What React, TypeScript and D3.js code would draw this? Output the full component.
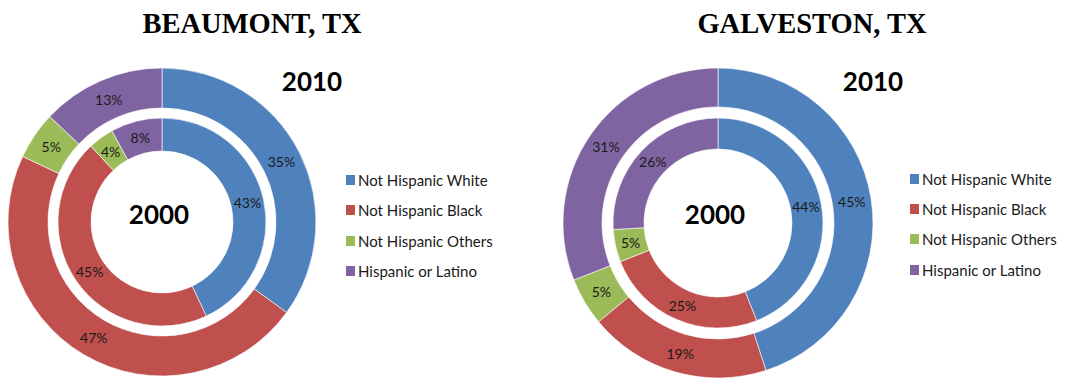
import React from "react";
import * as d3 from "d3";

const categories = ["Not Hispanic White", "Not Hispanic Black", "Not Hispanic Others", "Hispanic or Latino"];
const colors = ["#4F81BD", "#C0504D", "#9BBB59", "#8064A2"];

const beaumont2010 = [35, 47, 5, 13];
const beaumont2000 = [43, 45, 4, 8];
const galveston2010 = [45, 19, 5, 31];
const galveston2000 = [44, 25, 5, 26];

const cities = ["BEAUMONT, TX", "GALVESTON, TX"];

type Panel = {
  title: string;
  outer: number[];
  inner: number[];
  cx: number;
  cy: number;
  rO: [number, number];
  rI: [number, number];
  titleX: number;
  y2010X: number;
  legendX: number;
  legendY: number[];
};

const panels: Panel[] = [
  {
    title: cities[0],
    outer: beaumont2010,
    inner: beaumont2000,
    cx: 162,
    cy: 222,
    rO: [114, 154],
    rI: [71, 104],
    titleX: 252,
    y2010X: 312,
    legendX: 346,
    legendY: [180, 210, 241, 271],
  },
  {
    title: cities[1],
    outer: galveston2010,
    inner: galveston2000,
    cx: 718,
    cy: 223,
    rO: [116, 155],
    rI: [74, 105],
    titleX: 812,
    y2010X: 873,
    legendX: 910,
    legendY: [179, 209, 239, 270],
  },
];

const pie = d3.pie<number>().sort(null).value((d) => d);

function Ring({ values, r0, r1 }: { values: number[]; r0: number; r1: number }) {
  const arc = d3.arc<d3.PieArcDatum<number>>().innerRadius(r0).outerRadius(r1);
  const arcs = pie(values);
  return (
    <g>
      {arcs.map((a, i) => (
        <path key={i} d={arc(a) || ""} fill={colors[i]} stroke="#ffffff" strokeWidth={0.6} />
      ))}
      {arcs.map((a, i) => {
        const [x, y] = arc.centroid(a);
        return (
          <text
            key={"t" + i}
            x={x}
            y={y}
            textAnchor="middle"
            dominantBaseline="central"
            fontFamily="Lato, 'Open Sans', sans-serif"
            fontSize={14}
            fill="#1a1a1a"
          >
            {values[i]}%
          </text>
        );
      })}
    </g>
  );
}

export default function App() {
  return (
    <svg
      width={1071}
      height={379}
      style={{ position: "absolute", left: 0, top: 0, background: "#fff" }}
    >
      {panels.map((p, k) => (
        <g key={k}>
          <text
            x={p.titleX}
            y={33}
            textAnchor="middle"
            fontFamily="'Liberation Serif', 'Times New Roman', serif"
            fontWeight="bold"
            fontSize={28.5}
            fill="#000"
          >
            {p.title}
          </text>
          <g transform={`translate(${p.cx},${p.cy})`}>
            <Ring values={p.outer} r0={p.rO[0]} r1={p.rO[1]} />
            <Ring values={p.inner} r0={p.rI[0]} r1={p.rI[1]} />
          </g>
          <text
            x={p.y2010X}
            y={91}
            textAnchor="middle"
            fontFamily="Lato, 'Open Sans', sans-serif"
            fontWeight="bold"
            fontSize={26}
            fill="#000"
          >
            2010
          </text>
          <text
            x={p.cx - 3}
            y={224}
            textAnchor="middle"
            fontFamily="Lato, 'Open Sans', sans-serif"
            fontWeight="bold"
            fontSize={26}
            fill="#000"
          >
            2000
          </text>
          {categories.map((c, i) => (
            <g key={c} transform={`translate(${p.legendX},${p.legendY[i]})`}>
              <rect x={0} y={-5} width={9} height={10} fill={colors[i]} />
              <text
                x={12}
                y={0}
                dominantBaseline="central"
                fontFamily="Lato, 'Open Sans', sans-serif"
                fontSize={15}
                fill="#1a1a1a"
              >
                {c}
              </text>
            </g>
          ))}
        </g>
      ))}
    </svg>
  );
}
